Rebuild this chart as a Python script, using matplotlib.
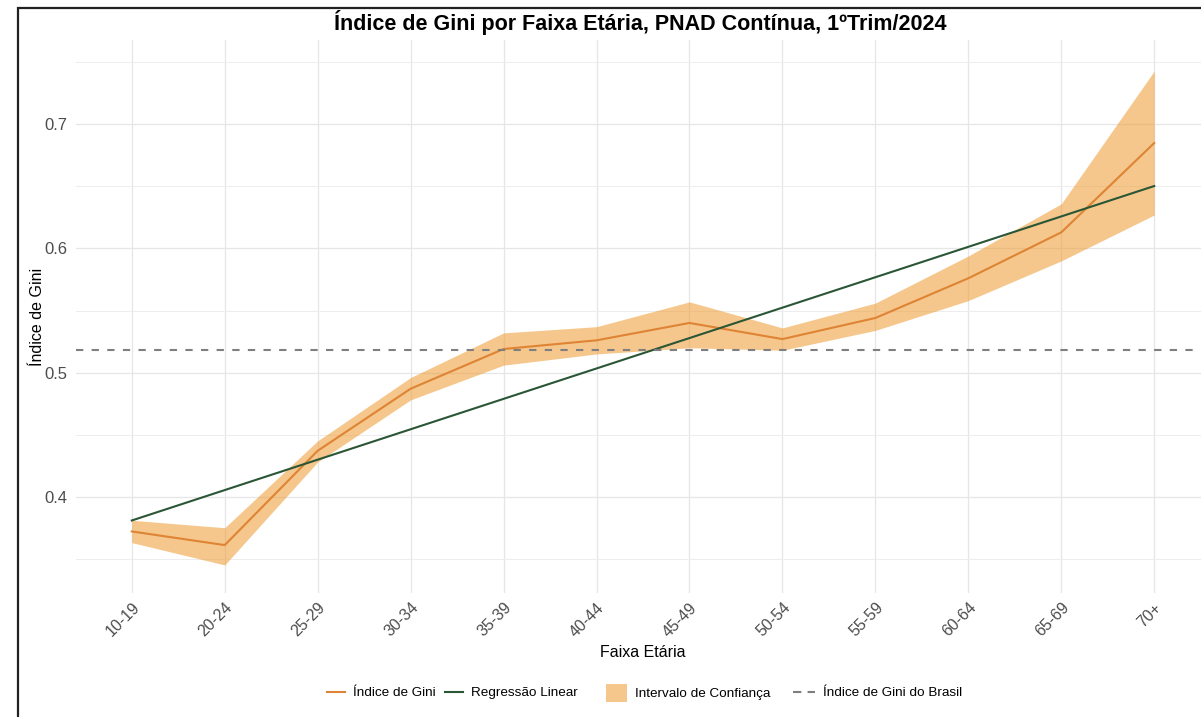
import matplotlib
matplotlib.use("Agg")
import matplotlib.pyplot as plt
import numpy as np
from matplotlib.lines import Line2D
from matplotlib.patches import Patch, Rectangle

faixas = ["10-19", "20-24", "25-29", "30-34", "35-39", "40-44",
          "45-49", "50-54", "55-59", "60-64", "65-69", "70+"]
gini = [0.372, 0.361, 0.437, 0.487, 0.519, 0.526,
        0.540, 0.527, 0.544, 0.576, 0.613, 0.685]
ic_inf = [0.363, 0.345, 0.428, 0.478, 0.506, 0.515,
          0.520, 0.518, 0.534, 0.558, 0.590, 0.627]
ic_sup = [0.381, 0.375, 0.445, 0.496, 0.532, 0.537,
          0.557, 0.536, 0.556, 0.594, 0.636, 0.743]
gini_brasil = 0.518

LARANJA = "#DE8434"
FAIXA = "#EE9A2E"
VERDE = "#2B5636"
CINZA = "#7F7F7F"
W, H = 1201, 717

plt.rcParams["font.family"] = ["Liberation Sans", "DejaVu Sans"]

x = np.arange(len(faixas))
coef = np.polyfit(x, gini, 1)
reg = np.polyval(coef, x)

fig = plt.figure(figsize=(W / 100, H / 100), dpi=100)
ax = fig.add_axes([76 / W, 1 - 593 / H, (1210 - 76) / W, (593 - 40) / H])

ax.fill_between(x, ic_inf, ic_sup, color=FAIXA, alpha=0.55, lw=0, zorder=2)
ax.plot(x, gini, color=LARANJA, lw=1.5, zorder=3)
ax.plot(x, reg, color=VERDE, lw=1.5, zorder=4)
ax.axhline(gini_brasil, color=CINZA, lw=1.5, ls=(0, (3.5, 4)), zorder=5)

ax.set_xlim(-0.6, len(faixas) - 1 + 0.6)
ax.set_ylim(0.3224, 0.768)
ax.set_xticks(x)
ax.set_xticklabels(faixas, rotation=45, ha="right", va="top",
                   rotation_mode="anchor", color="#4D4D4D", fontsize=11.5)
ax.set_yticks([0.4, 0.5, 0.6, 0.7])
ax.set_yticks([0.35, 0.45, 0.55, 0.65, 0.75], minor=True)
ax.set_yticklabels(["0.4", "0.5", "0.6", "0.7"], color="#4D4D4D", fontsize=12)
ax.tick_params(axis="both", which="both", length=0)
ax.tick_params(axis="y", pad=6.5)
ax.tick_params(axis="x", pad=5)
ax.grid(True, which="major", color="#E6E6E6", lw=0.9, zorder=0)
ax.grid(True, which="minor", axis="y", color="#EDEDED", lw=0.7, zorder=0)
ax.set_axisbelow(True)
for s in ax.spines.values():
    s.set_visible(False)

ax.set_xlabel("Faixa Etária", fontsize=11.5, labelpad=4)
ax.set_ylabel("Índice de Gini", fontsize=11.5, labelpad=-1)
fig.text(0.533, 0.969, "Índice de Gini por Faixa Etária, PNAD Contínua, 1ºTrim/2024",
         ha="center", va="center", fontsize=15.5, fontweight="bold")

# legenda: uma entrada por vez, para acertar os espaçamentos
leg_font = {"size": 9.7}
entradas = [
    (Line2D([], [], color=LARANJA, lw=1.5), "Índice de Gini", 327, 1.33, 0.7),
    (Line2D([], [], color=VERDE, lw=1.5), "Regressão Linear", 445, 1.33, 0.7),
    (Patch(facecolor=FAIXA, alpha=0.55, edgecolor="none"), "Intervalo de Confiança",
     606, 1.55, 1.63),
    (Line2D([], [], color=CINZA, lw=1.5, ls=(0, (4, 3))), "Índice de Gini do Brasil",
     793, 1.63, 0.7),
]
for h, lab, x0, hl, hh in entradas:
    fig.legend([h], [lab], loc="center left", bbox_to_anchor=(x0 / W, 1 - 693 / H),
               frameon=False, borderpad=0, borderaxespad=0, handlelength=hl,
               handleheight=hh, handletextpad=0.6, prop=leg_font)

# moldura preta da imagem original
fig.patches.append(Rectangle((18 / W, -0.05), 1.1, 1 - 8 / H + 0.05,
                             transform=fig.transFigure, fill=False,
                             edgecolor="#222222", lw=1.6, zorder=10))

fig.savefig("out.png", dpi=100)
